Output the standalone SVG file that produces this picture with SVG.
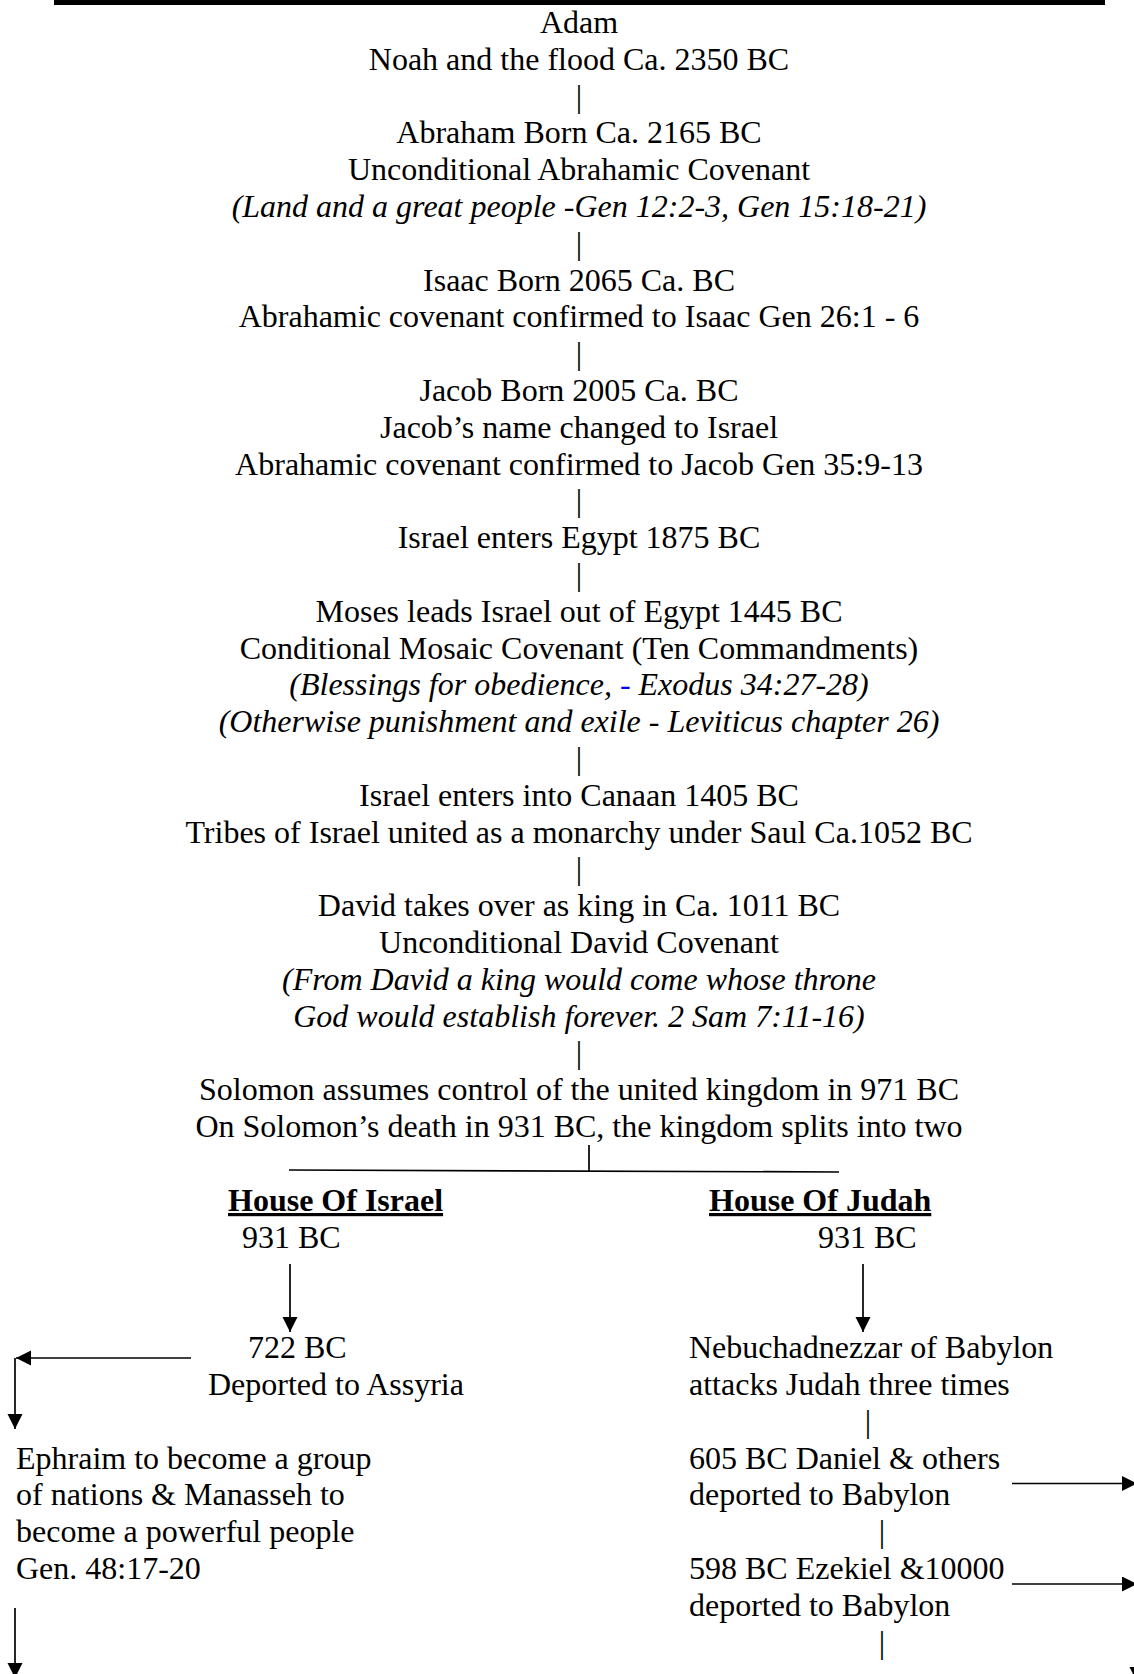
<svg xmlns="http://www.w3.org/2000/svg" width="1134" height="1674" viewBox="0 0 1134 1674">
<style>
text{font-family:"Liberation Serif","Times New Roman",serif;font-size:32px;fill:#000}
.c{text-anchor:middle}
.i{font-style:italic}
.b{font-weight:bold;text-decoration:underline}
.ln{stroke:#000;stroke-width:1.7;fill:none}
.ar{stroke:#000;stroke-width:1.7;fill:none;marker-end:url(#ah)}
</style>
<defs>
<marker id="ah" markerUnits="userSpaceOnUse" markerWidth="16" markerHeight="16" refX="15" refY="7.5" orient="auto">
<path d="M0,0 L15,7.5 L0,15 Z" fill="#000"/>
</marker>
</defs>
<rect x="54" y="0" width="1051" height="5" fill="#000"/>
<g id="connectors">
<text class="c" x="579" y="106.6">|</text>
<text class="c" x="579" y="253.8">|</text>
<text class="c" x="579" y="364.2">|</text>
<text class="c" x="579" y="511.4">|</text>
<text class="c" x="579" y="585">|</text>
<text class="c" x="579" y="769">|</text>
<text class="c" x="579" y="879.4">|</text>
<text class="c" x="579" y="1063.4">|</text>
<line class="ln" x1="589" y1="1145" x2="589" y2="1171"/>
<line class="ln" x1="289" y1="1170" x2="839" y2="1172"/>
<line class="ar" x1="290" y1="1264" x2="290" y2="1332"/>
<line class="ar" x1="863" y1="1264" x2="863" y2="1332"/>
<line class="ar" x1="191" y1="1358" x2="16" y2="1358"/>
<line class="ar" x1="15" y1="1358" x2="15" y2="1429"/>
<line class="ar" x1="15" y1="1608" x2="15" y2="1678"/>
<text class="c" x="868" y="1431.8">|</text>
<text class="c" x="882" y="1542.2">|</text>
<text class="c" x="882" y="1652.6">|</text>
<line class="ar" x1="1012" y1="1483.5" x2="1137" y2="1483.5"/>
<line class="ar" x1="1012" y1="1584" x2="1137" y2="1584"/>
<line class="ar" x1="1137" y1="1612" x2="1137" y2="1682"/>
</g>
<g id="n-adam">
<text class="c" x="579" y="33">Adam</text>
<text class="c" x="579" y="69.8">Noah and the flood Ca. 2350 BC</text>
</g>
<g id="n-abraham">
<text class="c" x="579" y="143.4">Abraham Born Ca. 2165 BC</text>
<text class="c" x="579" y="180.2">Unconditional Abrahamic Covenant</text>
<text class="c i" x="579" y="217">(Land and a great people -Gen 12:2-3, Gen 15:18-21)</text>
</g>
<g id="n-isaac">
<text class="c" x="579" y="290.6">Isaac Born 2065 Ca. BC</text>
<text class="c" x="579" y="327.4">Abrahamic covenant confirmed to Isaac Gen 26:1 - 6</text>
</g>
<g id="n-jacob">
<text class="c" x="579" y="401">Jacob Born 2005 Ca. BC</text>
<text class="c" x="579" y="437.8">Jacob’s name changed to Israel</text>
<text class="c" x="579" y="474.6">Abrahamic covenant confirmed to Jacob Gen 35:9-13</text>
</g>
<g id="n-egypt">
<text class="c" x="579" y="548.2">Israel enters Egypt 1875 BC</text>
</g>
<g id="n-moses">
<text class="c" x="579" y="621.8">Moses leads Israel out of Egypt 1445 BC</text>
<text class="c" x="579" y="658.6">Conditional Mosaic Covenant (Ten Commandments)</text>
<text class="c i" x="579" y="695.4">(Blessings for obedience, <tspan fill="#0000ff">-</tspan> Exodus 34:27-28)</text>
<text class="c i" x="579" y="732.2">(Otherwise punishment and exile - Leviticus chapter 26)</text>
</g>
<g id="n-canaan">
<text class="c" x="579" y="805.8">Israel enters into Canaan 1405 BC</text>
<text class="c" x="579" y="842.6">Tribes of Israel united as a monarchy under Saul Ca.1052 BC</text>
</g>
<g id="n-david">
<text class="c" x="579" y="916.2">David takes over as king in Ca. 1011 BC</text>
<text class="c" x="579" y="953">Unconditional David Covenant</text>
<text class="c i" x="579" y="989.8">(From David a king would come whose throne</text>
<text class="c i" x="579" y="1026.6">God would establish forever. 2 Sam 7:11-16)</text>
</g>
<g id="n-solomon">
<text class="c" x="579" y="1100.2">Solomon assumes control of the united kingdom in 971 BC</text>
<text class="c" x="579" y="1137">On Solomon’s death in 931 BC, the kingdom splits into two</text>
</g>
<g id="n-house-israel">
<text class="b" x="228" y="1211">House Of Israel</text>
<text x="242" y="1248">931 BC</text>
</g>
<g id="n-house-judah">
<text class="b" x="709" y="1211">House Of Judah</text>
<text x="818" y="1248">931 BC</text>
</g>
<g id="n-assyria">
<text x="248" y="1358.2">722 BC</text>
<text x="208" y="1395">Deported to Assyria</text>
</g>
<g id="n-nebuchadnezzar">
<text x="689" y="1358.2">Nebuchadnezzar of Babylon</text>
<text x="689" y="1395">attacks Judah three times</text>
</g>
<g id="n-605">
<text x="689" y="1468.6">605 BC Daniel &amp; others</text>
<text x="689" y="1505.4">deported to Babylon</text>
</g>
<g id="n-598">
<text x="689" y="1579">598 BC Ezekiel &amp;10000</text>
<text x="689" y="1615.8">deported to Babylon</text>
</g>
<g id="n-ephraim">
<text x="16" y="1468.6">Ephraim to become a group</text>
<text x="16" y="1505.4">of nations &amp; Manasseh to</text>
<text x="16" y="1542.2">become a powerful people</text>
<text x="16" y="1579">Gen. 48:17-20</text>
</g>
</svg>
